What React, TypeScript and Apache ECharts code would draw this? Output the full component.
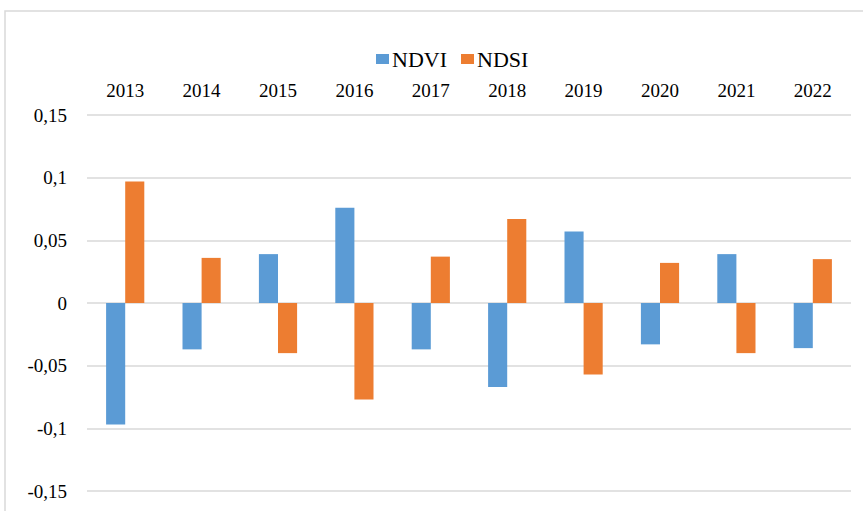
import React, { useEffect, useRef } from "react";
import * as echarts from "echarts";

const years = ["2013", "2014", "2015", "2016", "2017", "2018", "2019", "2020", "2021", "2022"];
const ndvi = [-0.097, -0.037, 0.039, 0.076, -0.037, -0.067, 0.057, -0.033, 0.039, -0.036];
const ndsi = [0.097, 0.036, -0.04, -0.077, 0.037, 0.067, -0.057, 0.032, -0.04, 0.035];
const seriesNames = ["NDVI", "NDSI"];
const colors = ["#5B9BD5", "#ED7D31"];

const fmt = (v: number) => String(Number(v.toFixed(2))).replace(".", ",");

export default function App() {
  const ref = useRef<HTMLDivElement>(null);
  useEffect(() => {
    if (!ref.current) return;
    const chart = echarts.init(ref.current, null, { renderer: "svg" });
    const font = "Liberation Serif";
    chart.setOption({
      animation: false,
      backgroundColor: "#ffffff",
      textStyle: { fontFamily: font },
      graphic: [
        {
          type: "rect",
          shape: { x: 5, y: 11, width: 900, height: 600 },
          style: { fill: "none", stroke: "#d9d9d9", lineWidth: 1.5 },
          silent: true,
        },
      ],
      legend: {
        data: seriesNames,
        top: 43,
        left: 371,
        itemWidth: 13,
        itemHeight: 10,
        itemGap: 14,
        icon: "rect",
        textStyle: { fontFamily: font, fontSize: 22, color: "#000", padding: [0, 0, 0, -2] },
      },
      grid: { left: 87, right: 12, top: 115, bottom: 20 },
      xAxis: {
        type: "category",
        data: years,
        position: "top",
        axisLine: { show: false },
        axisTick: { show: false },
        axisLabel: { fontFamily: font, fontSize: 19, color: "#000", margin: 15 },
      },
      yAxis: {
        type: "value",
        min: -0.15,
        max: 0.15,
        interval: 0.05,
        axisLine: { show: false },
        axisTick: { show: false },
        splitLine: { lineStyle: { color: "#d9d9d9", width: 1.5 } },
        axisLabel: {
          fontFamily: font,
          fontSize: 19,
          color: "#000",
          margin: 20,
          formatter: (v: number) => fmt(v),
        },
      },
      series: [
        {
          name: seriesNames[0],
          type: "bar",
          data: ndvi,
          itemStyle: { color: colors[0] },
          barGap: "0%",
          barCategoryGap: "50%",
        },
        {
          name: seriesNames[1],
          type: "bar",
          data: ndsi,
          itemStyle: { color: colors[1] },
          barGap: "0%",
          barCategoryGap: "50%",
        },
      ],
    });
    return () => chart.dispose();
  }, []);
  return (
    <div
      ref={ref}
      style={{ position: "fixed", left: 0, top: 0, width: 863, height: 511, background: "#fff" }}
    />
  );
}
